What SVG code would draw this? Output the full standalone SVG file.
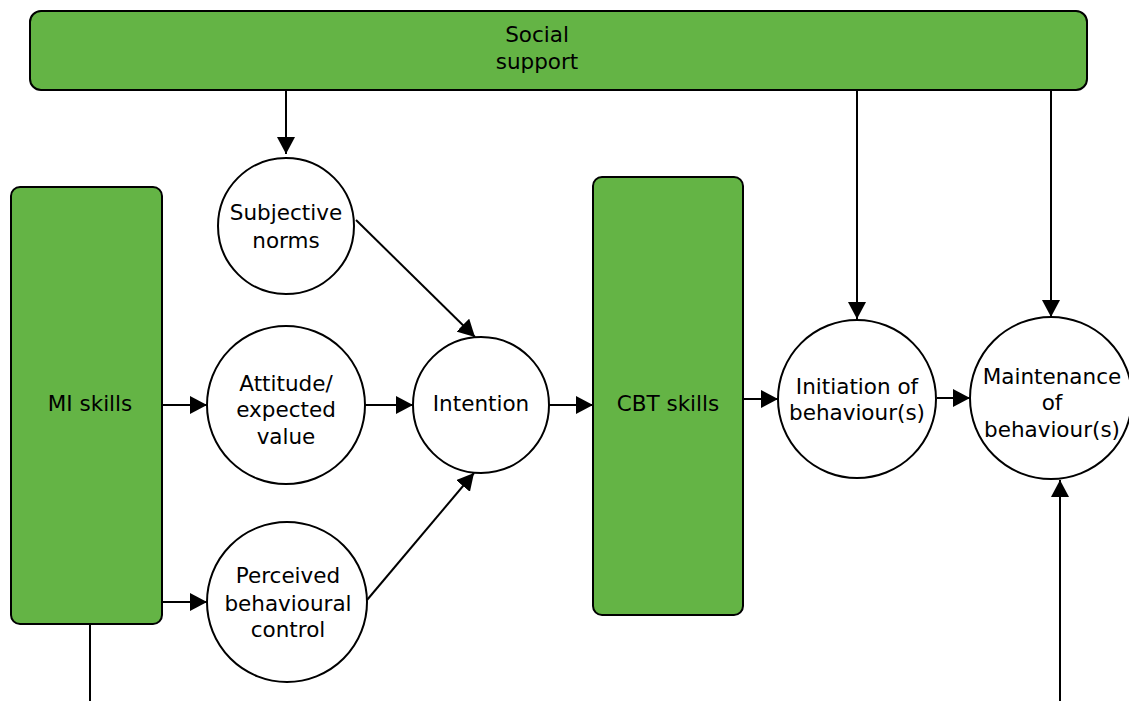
<svg xmlns="http://www.w3.org/2000/svg" width="1129" height="701" viewBox="0 0 1129 701">
<defs>
<style>
.box{fill:#64B445;stroke:#000;stroke-width:2}
.node{fill:#fff;stroke:#000;stroke-width:2}
.t{font-family:"DejaVu Sans","Noto Sans",sans-serif;font-size:21.5px;fill:#000;text-anchor:middle}
.c{stroke:#000;stroke-width:2;fill:none}
</style>
<marker id="ah" markerWidth="17" markerHeight="18" refX="17" refY="9" orient="auto" markerUnits="userSpaceOnUse">
<path d="M0,0 L17,9 L0,18 Z" fill="#000"/>
</marker>
</defs>
<rect width="1129" height="701" fill="#fff"/>
<g id="connectors">
<line class="c" x1="286" y1="90" x2="286" y2="154" marker-end="url(#ah)"/>
<line class="c" x1="857" y1="90" x2="857" y2="319" marker-end="url(#ah)"/>
<line class="c" x1="1051" y1="90" x2="1051" y2="317" marker-end="url(#ah)"/>
<line class="c" x1="356" y1="220" x2="475" y2="337" marker-end="url(#ah)"/>
<line class="c" x1="367" y1="600" x2="474" y2="473" marker-end="url(#ah)"/>
<line class="c" x1="162" y1="405" x2="207" y2="405" marker-end="url(#ah)"/>
<line class="c" x1="162" y1="602" x2="207" y2="602" marker-end="url(#ah)"/>
<line class="c" x1="365" y1="405" x2="413" y2="405" marker-end="url(#ah)"/>
<line class="c" x1="549" y1="405" x2="593" y2="405" marker-end="url(#ah)"/>
<line class="c" x1="743" y1="399" x2="778" y2="399" marker-end="url(#ah)"/>
<line class="c" x1="937" y1="398" x2="970" y2="398" marker-end="url(#ah)"/>
<line class="c" x1="90" y1="625" x2="90" y2="701"/>
<line class="c" x1="1060" y1="701" x2="1060" y2="480" marker-end="url(#ah)"/>
</g>
<g id="social-support">
<rect class="box" x="30" y="11" width="1057" height="79" rx="11"/>
<text class="t" x="537" y="42">Social</text>
<text class="t" x="537" y="69">support</text>
</g>
<g id="mi-skills">
<rect class="box" x="11" y="187" width="151" height="437" rx="9"/>
<text class="t" x="90" y="411">MI skills</text>
</g>
<g id="cbt-skills">
<rect class="box" x="593" y="177" width="150" height="438" rx="9"/>
<text class="t" x="668" y="411">CBT skills</text>
</g>
<g id="subjective-norms">
<circle class="node" cx="286" cy="226" r="68"/>
<text class="t" x="286" y="220">Subjective</text>
<text class="t" x="286" y="248">norms</text>
</g>
<g id="attitude">
<circle class="node" cx="286" cy="405" r="79"/>
<text class="t" x="286" y="391">Attitude/</text>
<text class="t" x="286" y="417">expected</text>
<text class="t" x="286" y="444">value</text>
</g>
<g id="perceived">
<circle class="node" cx="287" cy="602" r="80"/>
<text class="t" x="288" y="583">Perceived</text>
<text class="t" x="288" y="611">behavioural</text>
<text class="t" x="288" y="637">control</text>
</g>
<g id="intention">
<circle class="node" cx="481" cy="405" r="68"/>
<text class="t" x="481" y="411">Intention</text>
</g>
<g id="initiation">
<circle class="node" cx="857" cy="399" r="79"/>
<text class="t" x="857" y="394">Initiation of</text>
<text class="t" x="857" y="420">behaviour(s)</text>
</g>
<g id="maintenance">
<circle class="node" cx="1051" cy="398" r="81"/>
<text class="t" x="1052" y="384">Maintenance</text>
<text class="t" x="1052" y="410">of</text>
<text class="t" x="1052" y="437">behaviour(s)</text>
</g>
</svg>
